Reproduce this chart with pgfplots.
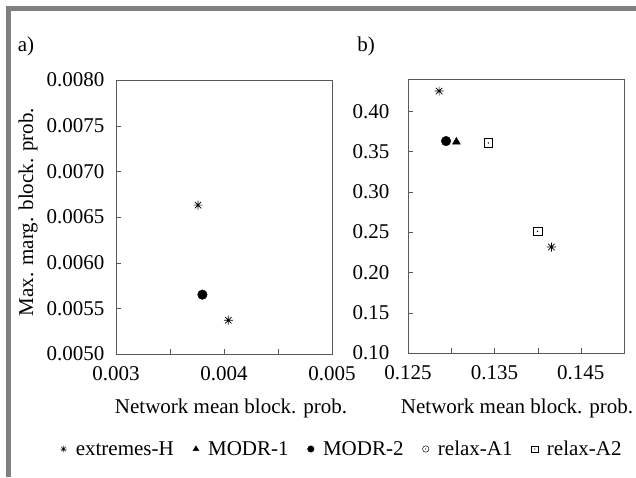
\documentclass[border=0pt]{standalone}
\usepackage{fontspec}
\setmainfont{Liberation Serif}
\usepackage{pgfplots}
\pgfplotsset{compat=1.18}

% 8-spoke asterisk, square with dot, circle with dot
\pgfdeclareplotmark{ast8}{%
  \pgfpathmoveto{\pgfqpoint{-\pgfplotmarksize}{0pt}}\pgfpathlineto{\pgfqpoint{\pgfplotmarksize}{0pt}}%
  \pgfpathmoveto{\pgfqpoint{0pt}{-\pgfplotmarksize}}\pgfpathlineto{\pgfqpoint{0pt}{\pgfplotmarksize}}%
  \pgfpathmoveto{\pgfqpoint{-0.707\pgfplotmarksize}{-0.707\pgfplotmarksize}}\pgfpathlineto{\pgfqpoint{0.707\pgfplotmarksize}{0.707\pgfplotmarksize}}%
  \pgfpathmoveto{\pgfqpoint{-0.707\pgfplotmarksize}{0.707\pgfplotmarksize}}\pgfpathlineto{\pgfqpoint{0.707\pgfplotmarksize}{-0.707\pgfplotmarksize}}%
  \pgfusepathqstroke}
\pgfdeclareplotmark{sqdot}{%
  \pgfpathrectangle{\pgfqpoint{-\pgfplotmarksize}{-\pgfplotmarksize}}{\pgfqpoint{2\pgfplotmarksize}{2\pgfplotmarksize}}%
  \pgfusepathqstroke
  \pgfpathcircle{\pgfpointorigin}{0.18\pgfplotmarksize}\pgfusepathqfill}
\pgfdeclareplotmark{cdot}{%
  \pgfpathcircle{\pgfpointorigin}{\pgfplotmarksize}\pgfusepathqstroke
  \pgfpathcircle{\pgfpointorigin}{0.18\pgfplotmarksize}\pgfusepathqfill}

\newcommand{\figfont}{\fontsize{21}{24}\selectfont}

\pgfplotsset{
  panel/.style={scale only axis, width=216pt, height=274pt, anchor=south west,
    tick align=inside, xtick pos=bottom, ytick pos=left,
    axis line style={black!65}, tick style={black!65}, major tick length=5pt,
    scaled ticks=false, clip=false,
    ticklabel style={font=\figfont},
    xticklabel style={yshift=-9pt}, yticklabel style={xshift=-8pt}},
  s1/.style={only marks, mark=ast8, mark size=4.5pt, mark options={black, line width=0.7pt}},
  s2/.style={only marks, mark=triangle*, mark size=4.5pt, mark options={black}},
  s3/.style={only marks, mark=*, mark size=4.8pt, mark options={black}},
  s4/.style={only marks, mark=cdot, mark size=4.2pt, mark options={black, line width=0.6pt}},
  s5/.style={only marks, mark=sqdot, mark size=4.4pt, mark options={black, line width=0.6pt}},
  % legend symbol: mark centred, with room on its right before the text
  lg/.style={legend image code/.code={%
    \draw[black, line width=0.5pt, mark size=3.2pt, #1] plot coordinates {(0pt,0pt)};
    \path (-3pt,0pt) (10pt,0pt);}},
}

\begin{document}
\begin{tikzpicture}
\useasboundingbox (0pt,0pt) rectangle (636pt,-477pt);
\draw[line width=5pt, gray] (8.5pt,-477pt) -- (8.5pt,-8.5pt) -- (636pt,-8.5pt);
\node[font=\figfont] at (26pt,-46pt) {a)};
\node[font=\figfont] at (366pt,-46pt) {b)};

\begin{axis}[panel, at={(116pt,-354pt)},
  xmin=0.003, xmax=0.005, ymin=0.005, ymax=0.008,
  xtick={0.003,0.0035,0.004,0.0045,0.005}, xticklabels={0.003,,0.004,,0.005},
  ytick={0.005,0.0055,0.006,0.0065,0.007,0.0075,0.008},
  yticklabels={0.0050,0.0055,0.0060,0.0065,0.0070,0.0075,0.0080}]
\addplot[s1] coordinates {(0.00376,0.00663)(0.00404,0.00537)};
\addplot[s3] coordinates {(0.00380,0.00565)};
\end{axis}

\begin{axis}[panel, at={(408pt,-353pt)},
  xmin=0.125, xmax=0.150, ymin=0.10, ymax=0.44,
  xtick={0.125,0.130,0.135,0.140,0.145,0.150}, xticklabels={0.125,,0.135,,0.145,},
  ytick={0.10,0.15,0.20,0.25,0.30,0.35,0.40},
  yticklabels={0.10,0.15,0.20,0.25,0.30,0.35,0.40}, yticklabel style={xshift=-7pt}]
\addplot[s1] coordinates {(0.1286,0.425)(0.1416,0.2315)};
\addplot[s2] coordinates {(0.1306,0.362)};
\addplot[s3] coordinates {(0.1294,0.363)};
\addplot[s5] coordinates {(0.1343,0.3606)(0.1400,0.251)};
\end{axis}

\node[font=\figfont] at (231pt,-408pt) {Network mean block. prob.};
\node[font=\figfont] at (517pt,-408pt) {Network mean block. prob.};
\node[font=\figfont, rotate=90] at (28pt,-212pt) {Max. marg. block. prob.};

% legend-only axis
\begin{axis}[hide axis, scale only axis, width=10pt, height=10pt, at={(342pt,-449pt)}, anchor=center,
  xmin=0, xmax=1, ymin=0, ymax=1,
  legend style={at={(0.5,0.5)}, anchor=center, draw=none, fill=none,
    font=\figfont, legend columns=5,
    /tikz/every even column/.append style={column sep=17pt}},
  legend cell align=left]
\addlegendimage{lg={mark=ast8}}
\addlegendentry{extremes-H}
\addlegendimage{lg={mark=triangle*}}
\addlegendentry{MODR-1}
\addlegendimage{lg={mark=*}}
\addlegendentry{MODR-2}
\addlegendimage{lg={mark=cdot}}
\addlegendentry{relax-A1}
\addlegendimage{lg={mark=sqdot}}
\addlegendentry{relax-A2}
\end{axis}
\end{tikzpicture}
\end{document}
